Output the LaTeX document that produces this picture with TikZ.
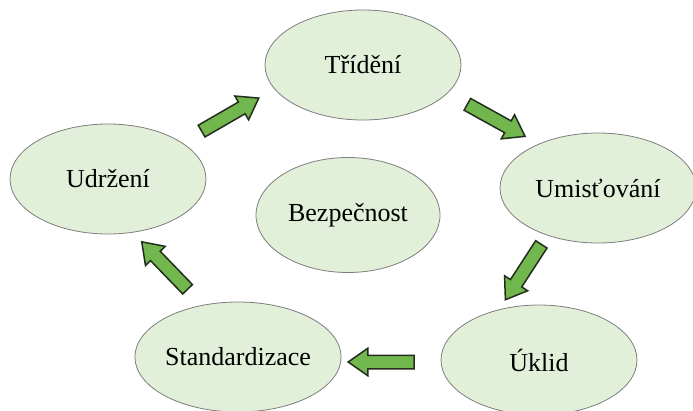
\documentclass[tikz,border=0pt]{standalone}
\usepackage{fontspec}
\setmainfont{Liberation Serif}
\usetikzlibrary{shapes.geometric, shapes.arrows}

\definecolor{ovalfill}{RGB}{226,239,217}
\definecolor{ovaldraw}{RGB}{125,125,125}
\definecolor{arrowfill}{RGB}{114,182,78}
\definecolor{arrowdraw}{RGB}{35,45,30}

\tikzset{
	oval/.style={ellipse, draw=ovaldraw, fill=ovalfill, line width=0.8pt,
		minimum width=196pt, minimum height=110pt, inner sep=0pt,
		font=\fontsize{26}{30}\selectfont},
	blockarrow/.style={single arrow, draw=arrowdraw, fill=arrowfill, line width=1.5pt,
		inner sep=0pt, inner ysep=6pt, minimum height=66pt,
		single arrow head extend=7pt, single arrow tip angle=70}
}

\begin{document}
\begin{tikzpicture}[x=1pt, y=-1pt]
	\useasboundingbox (0, 0) rectangle (693, 410);
	\clip (0, 0) rectangle (693, 410);

	% cycle
	\node[oval] (triedeni) at (363, 65) {Třídění};
	\node[oval] (umistovani) at (598, 188) {Umisťování};
	\node[oval] (uklid) at (539, 360) {Úklid};
	\node[oval] (standard) at (238, 357) {Standardizace};
	\node[oval] (udrzeni) at (108, 179) {Udržení};

	% centre
	\node[oval, minimum width=184pt, minimum height=115pt] (bezpecnost) at (348, 215) {Bezpečnost};

	% arrows
	\node[blockarrow, rotate=30] (udrzeni-triedeni) at (226, 117) {};
	\node[blockarrow, rotate=-29] (triedeni-umistovani) at (492, 118) {};
	\node[blockarrow, rotate=-123] (umistovani-uklid) at (526, 268) {};
	\node[blockarrow, rotate=180] (uklid-standard) at (386, 362) {};
	\node[blockarrow, rotate=134] (standard-udrzeni) at (168, 269) {};

\end{tikzpicture}
\end{document}
